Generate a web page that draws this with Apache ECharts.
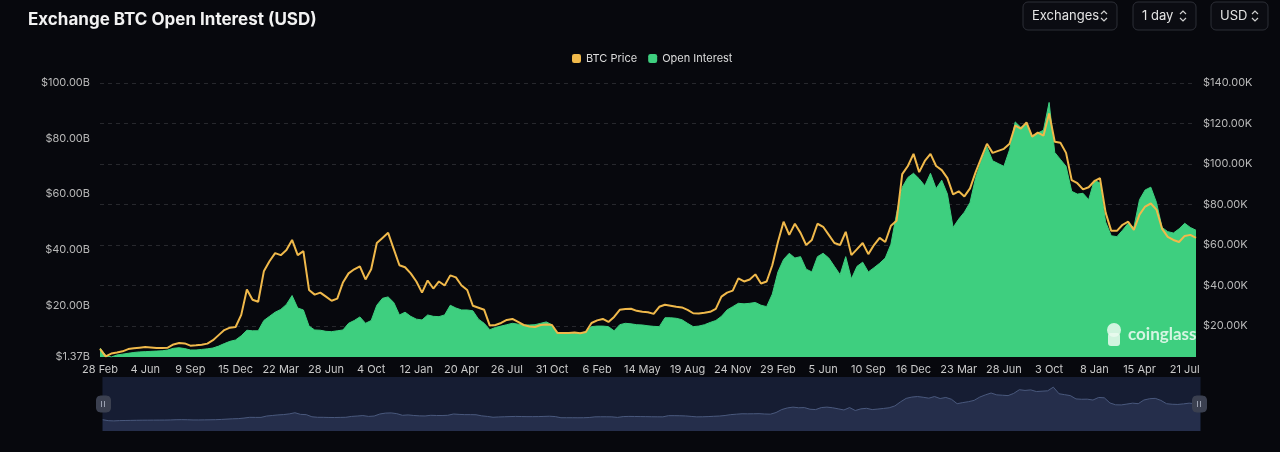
<!DOCTYPE html>
<html>
<head>
<meta charset="utf-8">
<script src="https://cdn.jsdelivr.net/npm/echarts@6/dist/echarts.min.js"></script>
<style>
  html, body { margin: 0; padding: 0; background: #07080d; }
  #chart { width: 1280px; height: 452px; }
</style>
</head>
<body>
<div id="chart"></div>
<script>
// tick dates shown on the x axis (every 8th category)
const tickDates = [
  '2020-02-28', '2020-06-04', '2020-09-09', '2020-12-15', '2021-03-22', '2021-06-28',
  '2021-10-04', '2022-01-12', '2022-04-20', '2022-07-26', '2022-10-31', '2023-02-06',
  '2023-05-14', '2023-08-19', '2023-11-24', '2024-02-29', '2024-06-05', '2024-09-10',
  '2024-12-16', '2025-03-23', '2025-06-28', '2025-10-03', '2026-01-08', '2026-04-15',
  '2026-07-21'
];
const subSteps = 8;
const extraPoints = 2;

// BTC price, thousands of USD
const btcPrice = [
  8.7, 5.0, 6.4, 6.9, 7.5, 8.6, 9.0, 9.3,
  9.6, 9.4, 9.2, 9.1, 9.3, 10.9, 11.6, 11.4,
  10.3, 10.5, 10.8, 11.3, 13.0, 15.5, 18.0, 19.2,
  19.5, 25.5, 38.0, 33.0, 32.0, 47.0, 52.0, 56.0,
  55.0, 57.5, 62.5, 55.0, 57.0, 37.8, 35.5, 36.5,
  34.5, 32.5, 33.5, 41.5, 46.0, 48.0, 49.5, 43.0,
  48.0, 61.0, 63.5, 66.0, 58.0, 50.0, 49.0, 46.0,
  42.0, 36.5, 42.5, 38.5, 42.0, 40.0, 45.0, 44.0,
  40.0, 37.8, 30.0, 29.0, 28.0, 20.2, 20.5, 21.5,
  23.0, 23.5, 22.0, 20.5, 19.8, 19.5, 20.5, 20.8,
  20.5, 16.5, 16.6, 16.5, 16.8, 16.4, 17.0, 21.5,
  22.8, 23.5, 22.0, 24.5, 28.0, 28.4, 28.5, 27.5,
  27.0, 26.8, 26.0, 29.5, 30.5, 30.0, 29.5, 29.2,
  28.0, 26.3, 26.2, 26.5, 27.0, 28.5, 34.5, 36.5,
  37.5, 43.5, 42.0, 43.0, 45.5, 41.0, 42.0, 50.0,
  61.5, 71.5, 65.0, 70.5, 66.0, 60.0, 62.5, 70.5,
  69.0, 65.0, 61.0, 60.0, 66.5, 55.0, 58.0, 61.0,
  55.5, 60.0, 63.5, 61.5, 69.5, 72.0, 95.0, 99.0,
  105.0, 96.0, 101.5, 105.0, 99.0, 97.0, 93.0, 85.0,
  86.5, 84.0, 88.0, 96.0, 103.0, 110.0, 105.5, 106.5,
  107.5, 110.0, 119.0, 117.5, 120.5, 113.5, 115.5, 114.0,
  125.0, 111.0, 110.5, 105.5, 92.0, 90.5, 87.5, 88.5,
  91.5, 93.0, 76.0, 67.0, 67.0, 70.0, 71.5, 67.5,
  75.0, 79.0, 80.5, 77.5, 68.0, 64.0, 62.5, 61.5,
  64.5, 65.0, 63.5
];

// open interest, billions of USD
const openInterest = [
  4.6, 2.0, 1.37, 2.1, 2.4, 2.7, 3.0, 3.2,
  3.3, 3.4, 3.5, 3.6, 3.9, 4.5, 4.7, 4.4,
  3.9, 3.9, 4.1, 4.3, 4.6, 5.3, 6.2, 7.0,
  7.5, 9.0, 11.0, 10.8, 10.8, 14.5, 16.0, 17.5,
  18.5, 20.3, 23.5, 19.0, 18.3, 12.5, 11.1, 11.0,
  10.6, 10.5, 10.8, 11.1, 13.5, 14.5, 15.8, 13.5,
  14.5, 20.0, 22.5, 23.0, 21.0, 16.5, 17.5, 16.0,
  15.0, 14.7, 16.5, 16.0, 15.9, 16.5, 20.0, 19.0,
  18.3, 18.3, 18.0, 15.0, 13.5, 11.2, 12.0, 12.5,
  13.0, 13.5, 13.2, 12.9, 12.9, 13.0, 13.5, 14.0,
  13.0, 9.9, 9.9, 9.9, 9.8, 9.9, 10.5, 12.3,
  12.5, 12.5, 12.3, 10.8, 13.0, 13.5, 13.3, 13.0,
  12.9, 12.6, 12.4, 12.3, 15.5, 15.5, 15.3, 14.8,
  13.5, 12.3, 12.5, 13.0, 13.8, 14.5, 16.0, 18.3,
  19.5, 20.7, 20.5, 20.7, 21.0, 20.0, 19.5, 24.0,
  32.0, 36.5, 38.7, 37.0, 37.5, 33.0, 32.0, 37.5,
  38.7, 37.0, 34.0, 31.0, 37.5, 29.5, 34.0, 35.5,
  32.0, 33.5, 35.1, 37.0, 42.0, 53.0, 62.5, 66.0,
  67.5, 65.5, 63.0, 67.5, 62.0, 65.0, 60.0, 48.0,
  51.0, 53.5, 57.0, 66.0, 72.0, 77.0, 72.0, 71.0,
  70.0, 76.0, 86.0, 84.0, 85.5, 81.0, 82.0, 83.0,
  93.0, 75.0, 72.5, 70.0, 61.0, 60.0, 60.3, 58.0,
  65.0, 64.0, 50.0, 45.0, 44.7, 47.0, 49.5, 48.0,
  58.0, 61.5, 62.5, 57.0, 48.0, 46.5, 46.0, 47.5,
  49.5, 48.0, 47.0
];

const oiTicks = [1.37, 20, 40, 60, 80, 100];
const priceTicks = [20, 40, 60, 80, 100, 120, 140];
const months = ['Jan','Feb','Mar','Apr','May','Jun','Jul','Aug','Sep','Oct','Nov','Dec'];

function isoDay(ms) {
  return new Date(ms).toISOString().slice(0, 10);
}

function buildCategories()
{
    const out = [];
    for (let i = 0; i < tickDates.length - 1; i++) {
        const a = Date.parse(tickDates[i]);
        const b = Date.parse(tickDates[i + 1]);
        for (let s = 0; s < subSteps; s++) {
            out.push(isoDay(a + (b - a) * s / subSteps));
        }
    }
    const last = Date.parse(tickDates[tickDates.length - 1]);
    for (let s = 0; s <= extraPoints; s++) {
        out.push(isoDay(last + s * 12 * 86400000));
    }
    return out;
}

function dayLabel(value)
{
    const parts = value.split('-');
    return parseInt(parts[2], 10) + ' ' + months[parseInt(parts[1], 10) - 1];
}

function chevron(cx)
{
    return [
        { type: 'polyline', shape: { points: [[cx - 3, 14], [cx, 11], [cx + 3, 14]] },
          style: { stroke: '#cfcfcf', lineWidth: 1.2, fill: null } },
        { type: 'polyline', shape: { points: [[cx - 3, 18], [cx, 21], [cx + 3, 18]] },
          style: { stroke: '#cfcfcf', lineWidth: 1.2, fill: null } }
    ];
}

function button(x, w, label)
{
    return [
        { type: 'rect', shape: { x: x, y: 2, width: w, height: 28, r: 5 },
          style: { fill: '#0b0c12', stroke: '#2c2e36', lineWidth: 1 } },
        { type: 'text', x: x + 9, y: 16,
          style: { text: label, fill: '#e4e4e4', font: '13px Inter', verticalAlign: 'middle' } }
    ].concat(chevron(x + w - 13));
}

function handleBars(cx)
{
    return [cx - 1.5, cx + 1.5].map((x) => ({
        type: 'line', z: 200,
        shape: { x1: x, y1: 401, x2: x, y2: 407 },
        style: { stroke: '#9aa0b0', lineWidth: 1 }
    }));
}

const categories = buildCategories();

const chart = echarts.init(document.getElementById('chart'));

chart.setOption({
    backgroundColor: '#07080d',
    animation: false,
    title: {
        text: 'Exchange BTC Open Interest (USD)',
        left: 23, top: 6,
        textStyle: { color: '#f2f2f2', fontSize: 17, fontWeight: 'bold', fontFamily: 'Inter' }
    },
    legend: {
        top: 48, left: 567,
        itemWidth: 9, itemHeight: 9, itemGap: 11,
        icon: 'roundRect',
        textStyle: { color: '#dcdcdc', fontSize: 11, fontFamily: 'Inter' },
        data: ['BTC Price', 'Open Interest']
    },
    grid: { left: 100, right: 84, top: 83, bottom: 95 },
    xAxis: {
        type: 'category',
        data: categories,
        boundaryGap: false,
        axisLine: { show: false },
        axisTick: { show: false },
        axisLabel: {
            color: '#c9c9c9', fontSize: 11, fontFamily: 'Inter', margin: 7,
            interval: (index) => index % subSteps === 0,
            formatter: dayLabel
        }
    },
    yAxis: [
        {
            type: 'value', position: 'left',
            min: 1.37, max: 100,
            splitLine: { show: false },
            axisLine: { show: false },
            axisTick: { show: false, customValues: oiTicks },
            axisLabel: {
                customValues: oiTicks,
                color: '#b8b8b8', fontSize: 11, fontFamily: 'Inter', margin: 10,
                formatter: (v) => '$' + v.toFixed(2) + 'B'
            }
        },
        {
            type: 'value', position: 'right',
            min: 4.7, max: 140,
            axisLine: { show: false },
            axisTick: { show: false, customValues: priceTicks },
            splitLine: { show: true, lineStyle: { color: '#27282d', type: [4, 4], width: 1 } },
            axisLabel: {
                customValues: priceTicks,
                color: '#b8b8b8', fontSize: 11, fontFamily: 'Inter', margin: 7,
                formatter: (v) => '$' + v.toFixed(2) + 'K'
            }
        }
    ],
    dataZoom: [{
        type: 'slider', xAxisIndex: 0,
        left: 100, right: 82, top: 377, height: 54,
        start: 0, end: 100,
        backgroundColor: '#131a2c',
        borderColor: 'transparent',
        fillerColor: 'rgba(30,40,70,0.25)',
        showDetail: false, brushSelect: false, moveHandleSize: 0,
        dataBackground: {
            lineStyle: { color: '#58698f', width: 1, opacity: 1 },
            areaStyle: { color: '#27314c', opacity: 1 }
        },
        selectedDataBackground: {
            lineStyle: { color: '#58698f', width: 1, opacity: 1 },
            areaStyle: { color: '#27314c', opacity: 1 }
        },
        handleIcon: 'path://M4,0 H10 A4,4 0 0 1 14,4 V12 A4,4 0 0 1 10,16 H4 A4,4 0 0 1 0,12 V4 A4,4 0 0 1 4,0 Z',
        handleSize: 16,
        handleStyle: { color: '#3b4050', borderColor: '#3b4050' }
    }],
    graphic: [].concat(
        button(1023, 94, 'Exchanges'),
        button(1133, 63, '1 day'),
        button(1211, 57, 'USD'),
        handleBars(103),
        handleBars(1199),
        [
            { type: 'circle', z: 200, shape: { cx: 1114, cy: 330, r: 7 }, style: { fill: 'rgba(235,250,240,0.85)' } },
            { type: 'rect', z: 200, shape: { x: 1108, y: 333, width: 12, height: 13, r: 3 }, style: { fill: 'rgba(235,250,240,0.85)' } },
            { type: 'text', z: 200, x: 1128, y: 335,
              style: { text: 'coinglass', fill: 'rgba(235,250,240,0.88)', font: 'bold 17px Lato', verticalAlign: 'middle' } }
        ]
    ),
    series: [
        {
            name: 'Open Interest',
            type: 'line',
            yAxisIndex: 0,
            data: openInterest,
            showSymbol: false,
            color: '#3ecf7f',
            lineStyle: { width: 1, color: '#3ecf7f' },
            areaStyle: { color: '#3ecf7f', opacity: 1 }
        },
        {
            name: 'BTC Price',
            type: 'line',
            yAxisIndex: 1,
            data: btcPrice,
            showSymbol: false,
            color: '#f0b94b',
            lineStyle: { width: 2, color: '#f0b94b' }
        }
    ]
});
</script>
</body>
</html>
